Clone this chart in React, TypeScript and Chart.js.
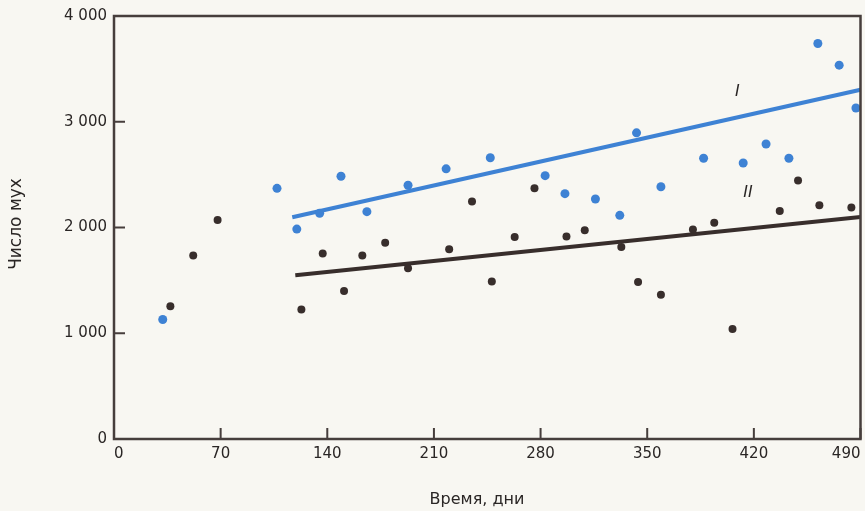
import React, { useEffect, useRef } from 'react';
import { Chart, registerables } from 'chart.js';

Chart.register(...registerables);

// Tick values
const xTickValues = [0, 70, 140, 210, 280, 350, 420, 490];
const yTickValues = [0, 1000, 2000, 3000, 4000];

// Series I (blue points): day, number of flies
const seriesIDays = [32, 107, 120, 135, 149, 166, 193, 218, 247, 283, 296, 316, 332, 343, 359, 387, 413, 428, 443, 462, 476, 487];
const seriesIFlies = [1130, 2370, 1985, 2135, 2485, 2150, 2400, 2555, 2660, 2490, 2320, 2270, 2115, 2895, 2385, 2655, 2610, 2790, 2655, 3740, 3535, 3130];

// Series II (dark points)
const seriesIIDays = [37, 52, 68, 123, 137, 151, 163, 178, 193, 220, 235, 248, 263, 276, 297, 309, 333, 344, 359, 380, 394, 406, 437, 449, 463, 484];
const seriesIIFlies = [1255, 1735, 2070, 1225, 1755, 1400, 1735, 1855, 1615, 1795, 2245, 1490, 1910, 2370, 1915, 1975, 1815, 1485, 1365, 1980, 2045, 1040, 2155, 2445, 2210, 2190];

// Trend lines
const trendIDays = [117, 490];
const trendIFlies = [2097, 3303];
const trendIIDays = [119, 490];
const trendIIFlies = [1549, 2100];

// Line labels
const lineLabels = ['I', 'II'];
const lineLabelDays = [409, 416];
const lineLabelFlies = [3290, 2335];

const xTitle = 'Время, дни';
const yTitle = 'Число мух';

const BLUE = 'rgb(62,130,212)';
const DARK = 'rgb(56,46,44)';
const AXIS = 'rgb(70,62,60)';
const TEXT = 'rgb(42,38,37)';
const BG = 'rgb(248,247,242)';

const zip = (xs: number[], ys: number[]) => xs.map((x, i) => ({ x, y: ys[i] }));

const decorPlugin = {
  id: 'decor',
  beforeDraw(chart: any) {
    const { ctx, width, height } = chart;
    ctx.save();
    ctx.fillStyle = BG;
    ctx.fillRect(0, 0, width, height);
    ctx.restore();
  },
  afterDraw(chart: any) {
    const { ctx, chartArea: a, scales } = chart;
    const x = scales.x;
    const y = scales.y;
    ctx.save();
    ctx.strokeStyle = AXIS;
    ctx.lineWidth = 2.5;
    ctx.strokeRect(a.left, a.top, a.right - a.left, a.bottom - a.top);
    ctx.lineWidth = 2;
    ctx.beginPath();
    xTickValues.forEach((t) => {
      const px = x.getPixelForValue(t);
      ctx.moveTo(px, a.bottom);
      ctx.lineTo(px, a.bottom - 11);
    });
    yTickValues.forEach((t) => {
      const py = y.getPixelForValue(t);
      ctx.moveTo(a.left, py);
      ctx.lineTo(a.left + 11, py);
    });
    ctx.stroke();

    // line labels
    ctx.fillStyle = TEXT;
    ctx.font = 'italic 17px "Liberation Sans"';
    ctx.textAlign = 'center';
    ctx.textBaseline = 'middle';
    lineLabels.forEach((lab, i) => {
      ctx.fillText(lab, x.getPixelForValue(lineLabelDays[i]), y.getPixelForValue(lineLabelFlies[i]));
    });

    // axis titles
    ctx.font = '16px "DejaVu Sans"';
    ctx.fillText(xTitle, a.left + 363, a.bottom + 61);
    ctx.save();
    ctx.font = '17px "DejaVu Sans"';
    ctx.translate(a.left - 97, (a.top + a.bottom) / 2 - 3.5);
    ctx.rotate(-Math.PI / 2);
    ctx.fillText(yTitle, 0, 0);
    ctx.restore();
    ctx.restore();
  },
};

export default function App() {
  const canvasRef = useRef<HTMLCanvasElement | null>(null);

  useEffect(() => {
    const canvas = canvasRef.current;
    if (!canvas) return;
    const chart = new Chart(canvas, {
      type: 'scatter',
      data: {
        datasets: [
          {
            label: 'I',
            data: zip(seriesIDays, seriesIFlies),
            backgroundColor: BLUE,
            borderColor: BLUE,
            borderWidth: 0,
            pointRadius: 4.5,
            order: 0,
          },
          {
            label: 'II',
            data: zip(seriesIIDays, seriesIIFlies),
            backgroundColor: DARK,
            borderColor: DARK,
            borderWidth: 0,
            pointRadius: 4,
            order: 0,
          },
          {
            type: 'line',
            label: 'trend I',
            data: zip(trendIDays, trendIFlies),
            borderColor: BLUE,
            borderWidth: 4,
            pointRadius: 0,
            showLine: true,
            fill: false,
            order: 1,
          } as any,
          {
            type: 'line',
            label: 'trend II',
            data: zip(trendIIDays, trendIIFlies),
            borderColor: DARK,
            borderWidth: 4,
            pointRadius: 0,
            showLine: true,
            fill: false,
            order: 1,
          } as any,
        ],
      },
      options: {
        animation: false,
        responsive: false,
        maintainAspectRatio: false,
        devicePixelRatio: 1,
        layout: { padding: { top: 16, right: 2, left: 0, bottom: 0 } },
        plugins: {
          legend: { display: false },
          tooltip: { enabled: false },
        },
        scales: {
          x: {
            type: 'linear',
            min: 0,
            max: 490,
            afterBuildTicks: (s: any) => {
              s.ticks = xTickValues.map((v) => ({ value: v }));
            },
            ticks: {
              align: 'inner',
              padding: 6,
              autoSkip: false,
              maxRotation: 0,
              font: { family: 'DejaVu Sans', size: 15 },
              color: TEXT,
            },
            grid: { display: false, drawTicks: false },
            border: { display: false },
            afterFit: (s: any) => {
              s.height = 72;
              s.paddingLeft = 0;
              s.paddingRight = 0;
            },
          },
          y: {
            type: 'linear',
            min: 0,
            max: 4000,
            afterBuildTicks: (s: any) => {
              s.ticks = yTickValues.map((v) => ({ value: v }));
            },
            ticks: {
              padding: 7,
              font: { family: 'DejaVu Sans', size: 15 },
              color: TEXT,
              callback: (v: any) => (v === 0 ? '0' : `${Number(v) / 1000} 000`),
            },
            grid: { display: false, drawTicks: false },
            border: { display: false },
            afterFit: (s: any) => {
              s.width = 114;
              s.paddingTop = 0;
              s.paddingBottom = 0;
            },
          },
        },
      } as any,
      plugins: [decorPlugin],
    });
    return () => chart.destroy();
  }, []);

  return (
    <div style={{ position: 'absolute', left: 0, top: 0, width: 865, height: 511, background: BG }}>
      <canvas ref={canvasRef} width={865} height={511} style={{ display: 'block', width: 865, height: 511 }} />
    </div>
  );
}
